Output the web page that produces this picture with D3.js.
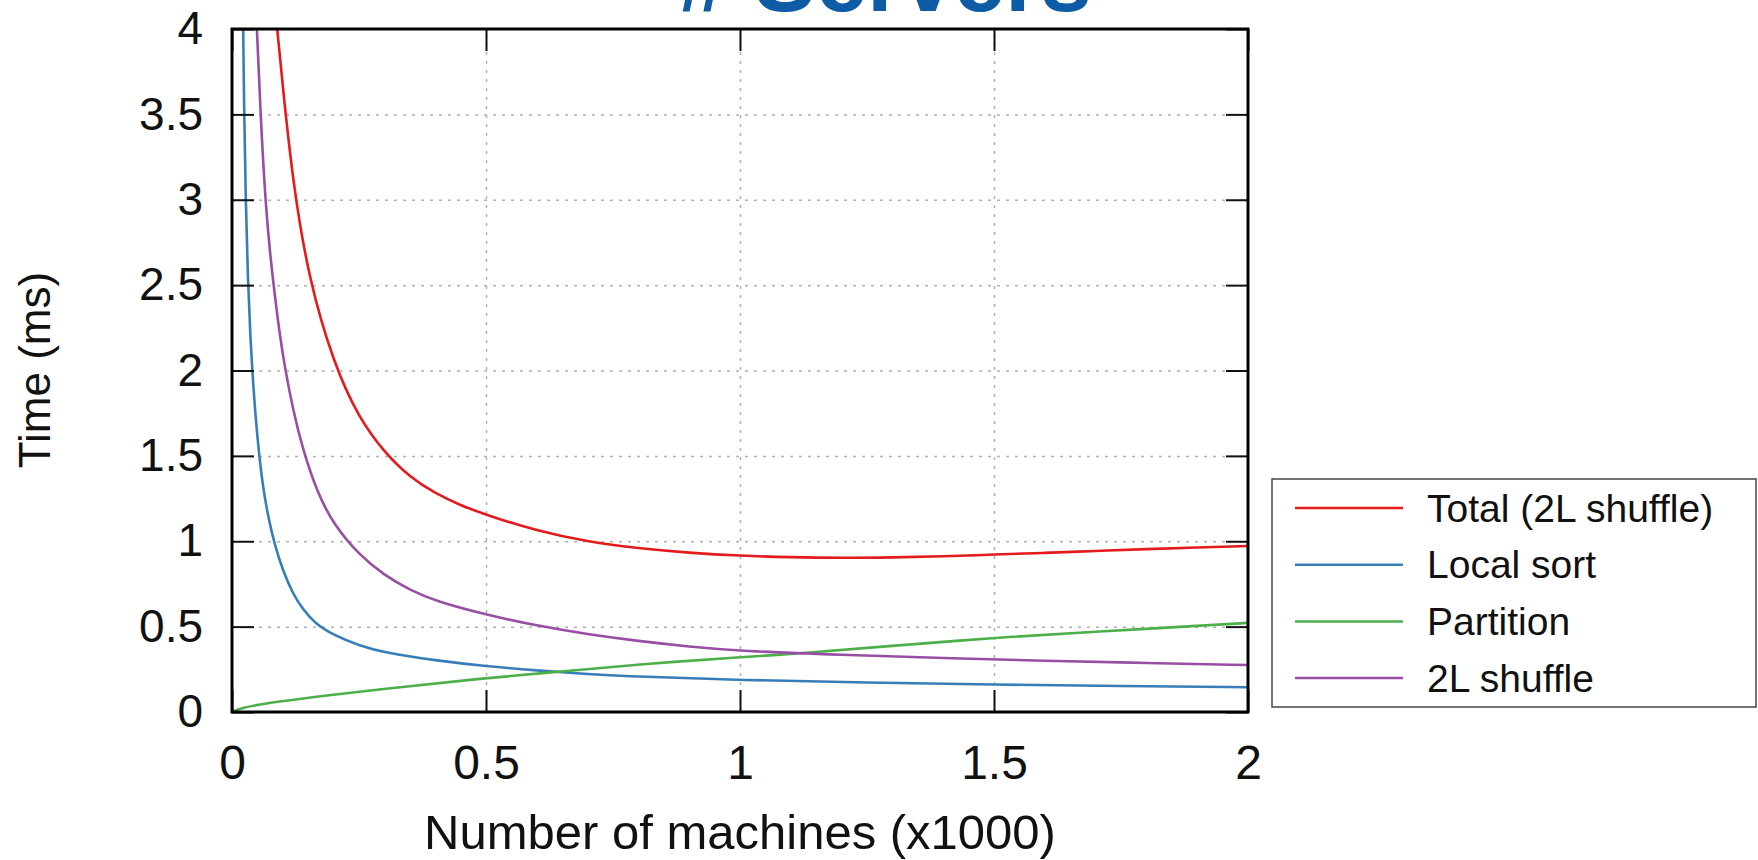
<!DOCTYPE html>
<html>
<head>
<meta charset="utf-8">
<script src="https://cdn.jsdelivr.net/npm/d3@7"></script>
<style>
body { margin: 0; background: #fff; }
text { font-family: "Liberation Sans", Arial, sans-serif; fill: #111; }
</style>
</head>
<body>
<div id="chart"></div>
<script>
// data (x in thousands of machines, y in ms)
var xTicks = [0, 0.5, 1, 1.5, 2];
var yTicks = [0, 0.5, 1, 1.5, 2, 2.5, 3, 3.5, 4];

var seriesNames = ["Total (2L shuffle)", "Local sort", "Partition", "2L shuffle"];
var seriesColors = ["#e41a1c", "#377eb8", "#4daf4a", "#984ea3"];

var totalX = [0.089, 0.1, 0.12, 0.15, 0.2, 0.25, 0.3, 0.35, 0.4, 0.45, 0.5, 0.6, 0.7, 0.8, 0.9, 1.0, 1.1, 1.2, 1.3, 1.4, 1.5, 1.6, 1.7, 1.8, 1.9, 2.0];
var totalY = [4.0, 3.66, 3.1, 2.55, 2.04, 1.72, 1.52, 1.375, 1.28, 1.21, 1.155, 1.06, 0.997, 0.958, 0.932, 0.915, 0.906, 0.902, 0.905, 0.912, 0.922, 0.932, 0.943, 0.954, 0.963, 0.972];

var localX = [0.022, 0.024, 0.027, 0.031, 0.036, 0.042, 0.05, 0.06, 0.072, 0.085, 0.1, 0.12, 0.14, 0.163, 0.2, 0.25, 0.3, 0.4, 0.5, 0.6, 0.7, 0.8, 1.0, 1.25, 1.5, 1.75, 2.0];
var localY = [4.0, 3.5, 3.0, 2.55, 2.2, 1.9, 1.6, 1.33, 1.13, 0.97, 0.83, 0.69, 0.6, 0.52, 0.45, 0.39, 0.347, 0.302, 0.268, 0.243, 0.222, 0.207, 0.187, 0.172, 0.16, 0.152, 0.145];

var partX = [0, 0.03, 0.25, 0.5, 0.646, 0.803, 1.0, 1.118, 1.276, 1.5, 1.7, 2.0];
var partY = [0, 0.04, 0.12, 0.2, 0.236, 0.281, 0.32, 0.343, 0.382, 0.435, 0.47, 0.522];

var shuffleX = [0.049, 0.057, 0.066, 0.075, 0.085, 0.095, 0.104, 0.12, 0.14, 0.17, 0.2, 0.25, 0.3, 0.35, 0.4, 0.5, 0.6, 0.7, 0.8, 0.9, 1.0, 1.2, 1.4, 1.6, 1.8, 2.0];
var shuffleY = [4.0, 3.45, 2.98, 2.68, 2.42, 2.19, 2.02, 1.77, 1.53, 1.27, 1.1, 0.92, 0.8, 0.715, 0.65, 0.57, 0.505, 0.455, 0.415, 0.383, 0.357, 0.335, 0.315, 0.3, 0.287, 0.275];

var seriesX = [totalX, localX, partX, shuffleX];
var seriesY = [totalY, localY, partY, shuffleY];

var widthsvg = 1758;
var heightsvg = 860;

var chartmargin = {top: 29, right: 510, bottom: 148, left: 232};

var width = widthsvg - chartmargin.left - chartmargin.right;
var height = heightsvg - chartmargin.top - chartmargin.bottom;
var tickLen = 22;
var fontFam = '"Liberation Sans", Arial, sans-serif';

var svg = d3.select("#chart")
    .append("svg")
    .attr("width", widthsvg)
    .attr("height", heightsvg);

// title, mostly cut off at the top edge
svg.append("text")
    .attr("x", 1092)
    .attr("y", 11)
    .attr("text-anchor", "end")
    .style("font-size", "92px")
    .style("font-weight", "bold")
    .style("fill", "#0f5ca6")
    .text("# Servers");

var chartGroup = svg.append("g")
    .attr("transform", `translate(${chartmargin.left}, ${chartmargin.top})`);

var scalex = d3.scaleLinear()
    .domain([0, 2])
    .range([0, width]);

var scaley = d3.scaleLinear()
    .domain([0, 4])
    .range([height, 0]);

// dotted grid
chartGroup.append("g")
    .attr("class", "grid")
    .call(d3.axisLeft(scaley).tickValues(yTicks.slice(1, -1)).tickSize(-width).tickFormat(""))
    .call(g => g.select(".domain").remove());

chartGroup.append("g")
    .attr("class", "grid")
    .attr("transform", `translate(0, ${height})`)
    .call(d3.axisBottom(scalex).tickValues(xTicks.slice(1, -1)).tickSize(-height).tickFormat(""))
    .call(g => g.select(".domain").remove());

chartGroup.selectAll(".grid line")
    .attr("stroke", "#b0b0b0")
    .attr("stroke-width", 1.5)
    .attr("stroke-dasharray", "3,6");

// curves
chartGroup.append("clipPath")
    .attr("id", "plotclip")
    .append("rect")
    .attr("width", width)
    .attr("height", height);

var line = d3.line()
    .x(d => scalex(d[0]))
    .y(d => scaley(d[1]))
    .curve(d3.curveBasis);

seriesNames.forEach(function(name, i) {
    var pts = seriesX[i].map((x, j) => [x, seriesY[i][j]]);
    chartGroup.append("path")
        .datum(pts)
        .attr("clip-path", "url(#plotclip)")
        .attr("fill", "none")
        .attr("stroke", seriesColors[i])
        .attr("stroke-width", 2.6)
        .attr("d", line);
});

// axes, ticks pointing inward
var axisleft = d3.axisLeft(scaley).tickValues(yTicks).tickSize(-tickLen).tickSizeOuter(0).tickPadding(29).tickFormat(d => d);
var axisbottom = d3.axisBottom(scalex).tickValues(xTicks).tickSize(-tickLen).tickSizeOuter(0).tickPadding(33).tickFormat(d => d);
var axistop = d3.axisTop(scalex).tickValues(xTicks).tickSize(-tickLen).tickSizeOuter(0).tickFormat("");
var axisright = d3.axisRight(scaley).tickValues(yTicks).tickSize(-tickLen).tickSizeOuter(0).tickFormat("");

chartGroup.append("g").attr("class", "axis").call(axisleft);
chartGroup.append("g").attr("class", "axis xlabels")
    .attr("transform", `translate(0, ${height})`)
    .call(axisbottom);
chartGroup.append("g").attr("class", "axis").call(axistop);
chartGroup.append("g").attr("class", "axis")
    .attr("transform", `translate(${width}, 0)`)
    .call(axisright);

chartGroup.selectAll(".axis .domain").remove();
chartGroup.selectAll(".axis line")
    .attr("stroke", "#111")
    .attr("stroke-width", 2);
chartGroup.selectAll(".axis text")
    .attr("font-family", fontFam)
    .style("font-size", "46px")
    .style("fill", "#111");
chartGroup.selectAll(".xlabels text")
    .style("font-size", "48px");

chartGroup.append("rect")
    .attr("width", width)
    .attr("height", height)
    .attr("fill", "none")
    .attr("stroke", "#000")
    .attr("stroke-width", 3);

// axis titles
svg.append("text")
    .attr("x", chartmargin.left + width / 2)
    .attr("y", 849)
    .attr("text-anchor", "middle")
    .style("font-size", "49px")
    .text("Number of machines (x1000)");

svg.append("text")
    .attr("transform", "translate(50, 370) rotate(-90)")
    .attr("text-anchor", "middle")
    .style("font-size", "44px")
    .text("Time (ms)");

// legend
var legend = svg.append("g")
    .attr("transform", "translate(1272, 479)");

legend.append("rect")
    .attr("width", 484)
    .attr("height", 228)
    .attr("fill", "#fff")
    .attr("stroke", "#444")
    .attr("stroke-width", 1.5);

var rows = legend.selectAll(".row")
    .data(seriesNames)
    .enter()
    .append("g")
    .attr("transform", (d, i) => `translate(0, ${29 + i * 56.7})`);

rows.append("line")
    .attr("x1", 23)
    .attr("x2", 131)
    .attr("stroke", (d, i) => seriesColors[i])
    .attr("stroke-width", 2.5);

rows.append("text")
    .attr("x", 155)
    .attr("dy", "0.35em")
    .style("font-size", "39px")
    .text(d => d);
</script>
</body>
</html>
